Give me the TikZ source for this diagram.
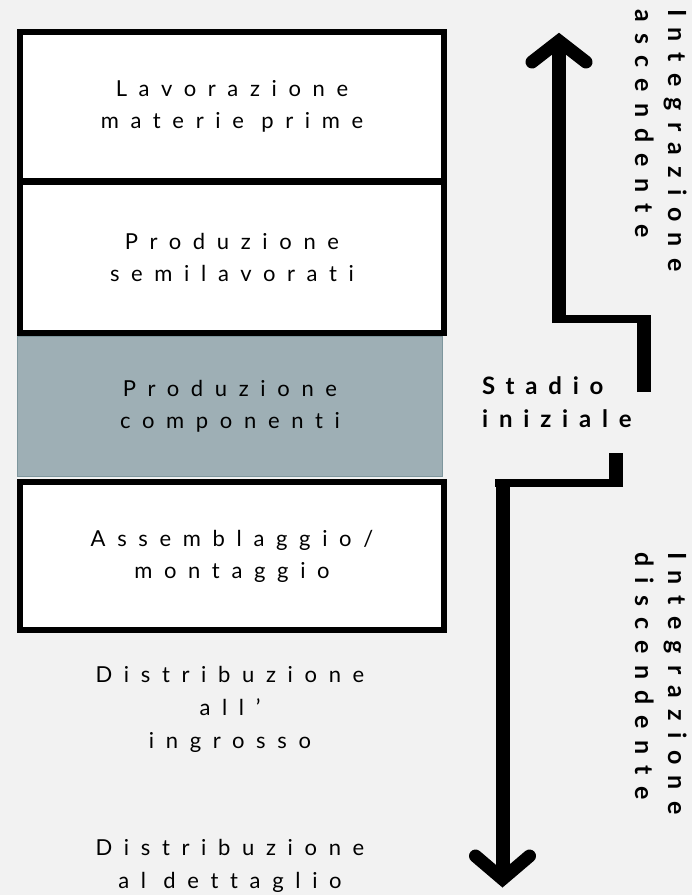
\documentclass[tikz,border=0pt]{standalone}
\usepackage{fontspec}
\setmainfont{Lato}
\newfontfamily\stagefont[LetterSpace=53,Ligatures=NoCommon]{Lato}
\newfontfamily\flowfont[LetterSpace=45,Ligatures=NoCommon]{Lato}

\definecolor{pagegrey}{HTML}{F2F2F2}
\definecolor{stagegrey}{HTML}{9EAFB5}
\definecolor{stageedge}{HTML}{7E969D}

\tikzset{
  stage/.style={draw=black, line width=6.5pt, fill=white, minimum width=424pt,
    align=center, inner sep=0pt, font=\stagefont\fontsize{22}{32}\selectfont},
  trade/.style={align=center, inner sep=0pt, font=\stagefont\fontsize{22}{33}\selectfont},
  riser/.style={line width=14pt, line cap=butt},
  tread/.style={line width=8pt, line cap=butt},
  chevron/.style={line width=13pt, line cap=round, line join=miter},
  sidelabel/.style={rotate=-90, anchor=north west, align=left, inner sep=0pt,
    font=\flowfont\bfseries\fontsize{25}{33}\selectfont}
}

\begin{document}
\begin{tikzpicture}[x=1pt,y=-1pt]
\fill[pagegrey] (0,0) rectangle (692,895);
\useasboundingbox (0,0) rectangle (692,895);

% stadi della filiera
\node[stage, minimum height=149.5pt] (lavorazione) at (232,106.75) {Lavorazione\\materie prime};
\node[draw=stageedge, line width=1pt, fill=stagegrey, minimum width=425pt, minimum height=140pt,
  align=center, inner sep=0pt, font=\stagefont\fontsize{22}{32}\selectfont]
  (componenti) at (230,406) {Produzione\\componenti};
\node[stage, minimum height=151.5pt] (semilavorati) at (232,257.25) {Produzione\\semilavorati};
\node[stage, minimum height=148pt] (assemblaggio) at (232,556) {Assemblaggio/\\montaggio};
\node[trade] (ingrosso) at (230,709) {Distribuzione\\all’\\ingrosso};
\node[trade] (dettaglio) at (230,866) {Distribuzione\\al dettaglio};

\node[anchor=north west, align=left, inner sep=0pt,
  font=\flowfont\bfseries\fontsize{24}{33}\selectfont] (iniziale) at (482,376) {Stadio\\iniziale};

% integrazione ascendente
\coordinate (upFoot) at (643.5,392);
\coordinate (upKnee) at (643.5,315);
\coordinate (upStepR) at (651,319);
\coordinate (upStepL) at (552,319);
\coordinate (upBase) at (559,323);
\coordinate (upTop) at (559,45);
\coordinate (upVertex) at (559,41);
\coordinate (upArmL) at (532,62);
\coordinate (upArmR) at (586,62);
\draw[riser] (upFoot) -- (upKnee);
\draw[tread] (upStepR) -- (upStepL);
\draw[riser] (upBase) -- (upTop);
\draw[chevron] (upArmL) -- (upVertex) -- (upArmR);

% integrazione discendente
\coordinate (downHead) at (615.5,453);
\coordinate (downKnee) at (615.5,487);
\coordinate (downStepR) at (623,483);
\coordinate (downStepL) at (495,483);
\coordinate (downBase) at (502.5,479);
\coordinate (downBottom) at (502.5,875);
\coordinate (downVertex) at (502.5,879);
\coordinate (downArmL) at (475.5,856);
\coordinate (downArmR) at (529.5,856);
\draw[riser] (downHead) -- (downKnee);
\draw[tread] (downStepR) -- (downStepL);
\draw[riser] (downBase) -- (downBottom);
\draw[chevron] (downArmL) -- (downVertex) -- (downArmR);

\node[sidelabel] (ascendente) at (687,9) {Integrazione\\ascendente};
\node[sidelabel] (discendente) at (687,552) {Integrazione\\discendente};
\end{tikzpicture}
\end{document}
